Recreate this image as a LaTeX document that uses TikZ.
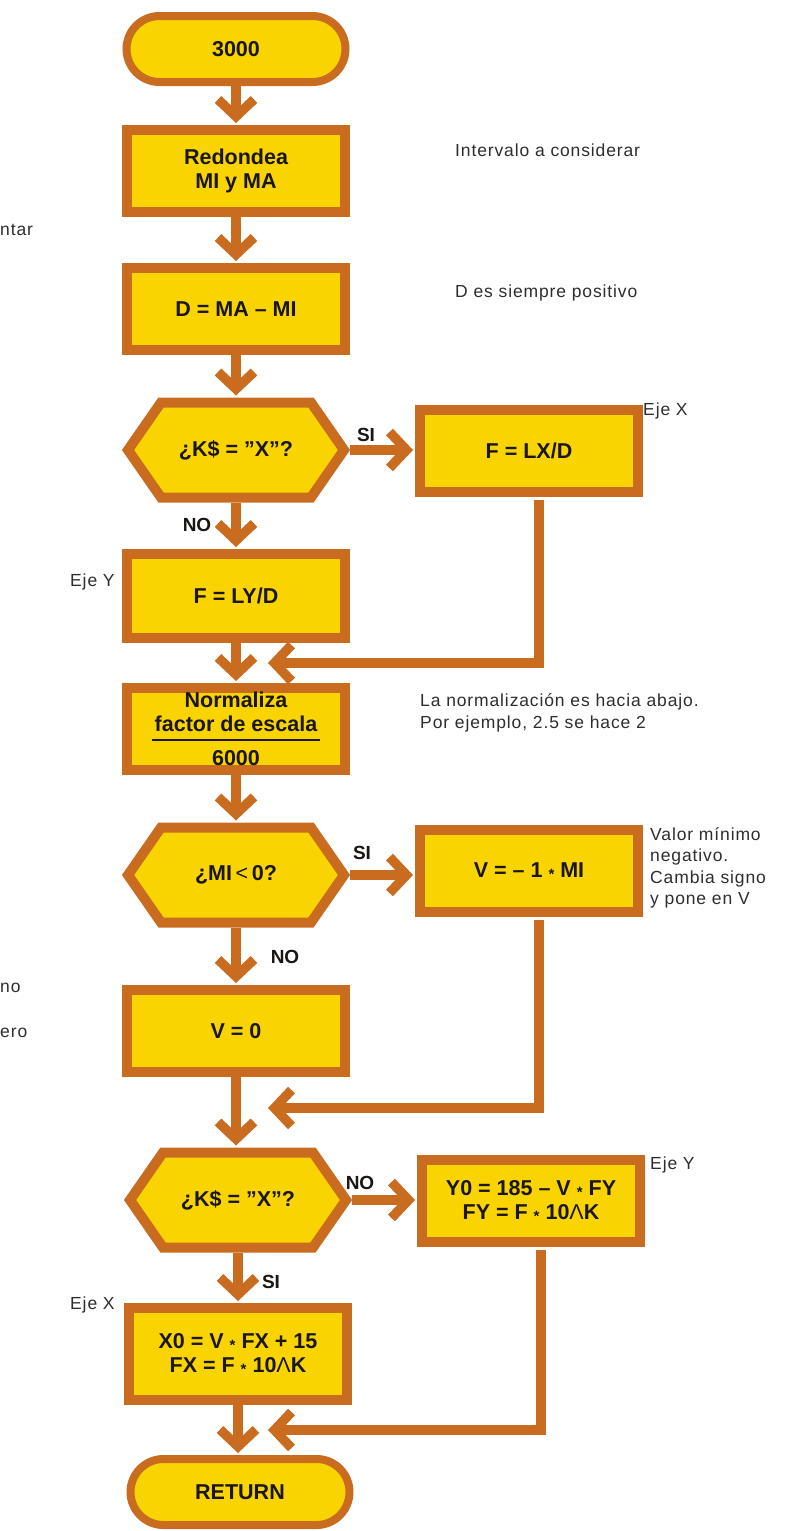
\documentclass[tikz,border=0pt]{standalone}
\usepackage{fontspec}
\setmainfont{Liberation Sans}
\newfontfamily\annfont[LetterSpace=5]{Liberation Sans}
\usetikzlibrary{arrows.meta,calc}
\definecolor{brd}{RGB}{202,108,32}
\definecolor{fil}{RGB}{250,212,0}
\definecolor{ink}{RGB}{25,22,20}
\definecolor{ann}{RGB}{45,45,45}
\newcommand\mul{\raisebox{-0.12em}{\fontsize{15}{15}\selectfont *}}
\newcommand\pow{{\mdseries Λ}}
\newcommand\hexdraw[1]{\draw[hexline] ($(#1)+(-108,0)$) -- ($(#1)+(-75,-47.5)$) -- ($(#1)+(75,-47.5)$) -- ($(#1)+(108,0)$) -- ($(#1)+(75,47.5)$) -- ($(#1)+(-75,47.5)$) -- cycle;}
\begin{document}
\begin{tikzpicture}[x=1pt,y=-1pt,
  every node/.style={text=ink},
  boxtext/.style={font=\bfseries\fontsize{21.5}{24}\selectfont, align=center},
  box/.style={boxtext, draw=brd, fill=fil, line width=10pt, minimum width=218pt, minimum height=82pt, inner sep=0pt},
  term/.style={boxtext, draw=brd, fill=fil, line width=8pt, rounded corners=33pt, minimum width=219pt, minimum height=66pt, inner sep=0pt},
  hexnode/.style={boxtext, minimum width=228pt, minimum height=105pt, inner sep=0pt, outer sep=0pt},
  hexline/.style={draw=brd, fill=fil, line width=10pt, line join=miter},
  arr/.style={draw=brd, line width=9.5pt, line cap=butt, line join=miter, shorten >=2pt, -{Straight Barb[length=17pt,width=36pt,sharp]}},
  lab/.style={font=\bfseries\fontsize{19}{19}\selectfont, inner sep=0pt},
  note/.style={font=\annfont\fontsize{17.5}{21.5}\selectfont, text=ann, align=left, inner sep=0pt},
]
\useasboundingbox (0,0) rectangle (787,1531);

% left column
\node[term] (t1) at (236,49) {3000};
\node[box] (b1) at (236,171) {Redondea\\MI y MA};
\node[box] (b2) at (236,309) {D = MA – MI};
\coordinate (q1c) at (236,450);
\hexdraw{q1c}
\node[hexnode] (q1) at (q1c) {¿K\$ = ”X”?};
\node[box, minimum height=84pt] (ly) at (236,596) {F = LY/D};
\node[box] (nm) at (236,729) {Normaliza\\factor de escala\\[10pt]6000};
\draw[ink, line width=2pt] ($(nm.center)+(-84,11)$) -- ($(nm.center)+(84,11)$);
\coordinate (q2c) at (236,875);
\hexdraw{q2c}
\node[hexnode] (q2) at (q2c) {¿MI{\mdseries\,<\,}0?};
\node[box] (v0) at (236,1031) {V = 0};
\coordinate (q3c) at (238,1200);
\hexdraw{q3c}
\node[hexnode] (q3) at (q3c) {¿K\$ = ”X”?};
\node[box, minimum height=92pt] (x0) at (238,1354) {X0 = V \mul{} FX + 15\\FX = F \mul{} 10\pow K};
\node[term] (t2) at (240,1492) {RETURN};

% right column
\node[box] (lx) at (529,451) {F = LX/D};
\node[box] (vv) at (529,871) {V = – 1 \mul{} MI};
\node[box] (y0) at (531,1201) {Y0 = 185 – V \mul{} FY\\FY = F \mul{} 10\pow K};

% join points
\coordinate (j1) at (266,663);
\coordinate (j2) at (266,1108);
\coordinate (j3) at (266,1430);

% connectors
\draw[arr] (t1.south) -- (b1.north);
\draw[arr] (b1.south) -- (b2.north);
\draw[arr] (b2.south) -- (q1.north);
\draw[arr] (q1.east) -- (q1.east -| lx.west);
\draw[arr] (q1.south) -- (ly.north);
\draw[arr, shorten <=3pt] ([xshift=10pt]lx.south) |- (j1);
\draw[arr] (ly.south) -- (nm.north);
\draw[arr] (nm.south) -- (q2.north);
\draw[arr] (q2.east) -- (q2.east -| vv.west);
\draw[arr] (q2.south) -- (v0.north);
\draw[arr, shorten <=3pt] ([xshift=10pt]vv.south) |- (j2);
\draw[arr] (v0.south) -- (v0.south |- q3.north);
\draw[arr] (q3.east) -- (q3.east -| y0.west);
\draw[arr] (q3.south) -- (q3.south |- x0.north);
\draw[arr, shorten <=3pt] ([xshift=10pt]y0.south) |- (j3);
\draw[arr] (x0.south) -- (x0.south |- t2.north);

% branch labels
\node[lab] (si1) at (366,435) {SI};
\node[lab] (no1) at (197,525) {NO};
\node[lab] (si2) at (362,853) {SI};
\node[lab] (no2) at (285,957) {NO};
\node[lab] (no3) at (360,1183) {NO};
\node[lab] (si3) at (271,1282) {SI};

% annotations
\node[note, anchor=west] (n1) at (455,150) {Intervalo a considerar};
\node[note, anchor=west] (n2) at (455,293) {D es siempre positivo};
\node[note, anchor=west] (n3) at (643,411) {Eje X};
\node[note, anchor=west] (n4) at (70,582) {Eje Y};
\node[note, anchor=west] (n5) at (420,713) {La normalización es hacia abajo.\\Por ejemplo, 2.5 se hace 2};
\node[note, anchor=west] (n6) at (650,868) {Valor mínimo\\negativo.\\Cambia signo\\y pone en V};
\node[note, anchor=west] (n7) at (650,1165) {Eje Y};
\node[note, anchor=west] (n8) at (70,1305) {Eje X};
\node[note, anchor=west] (n9) at (0,230) {ntar};
\node[note, anchor=west] (n10) at (0,988) {no};
\node[note, anchor=west] (n11) at (0,1033) {ero};
\end{tikzpicture}
\end{document}
